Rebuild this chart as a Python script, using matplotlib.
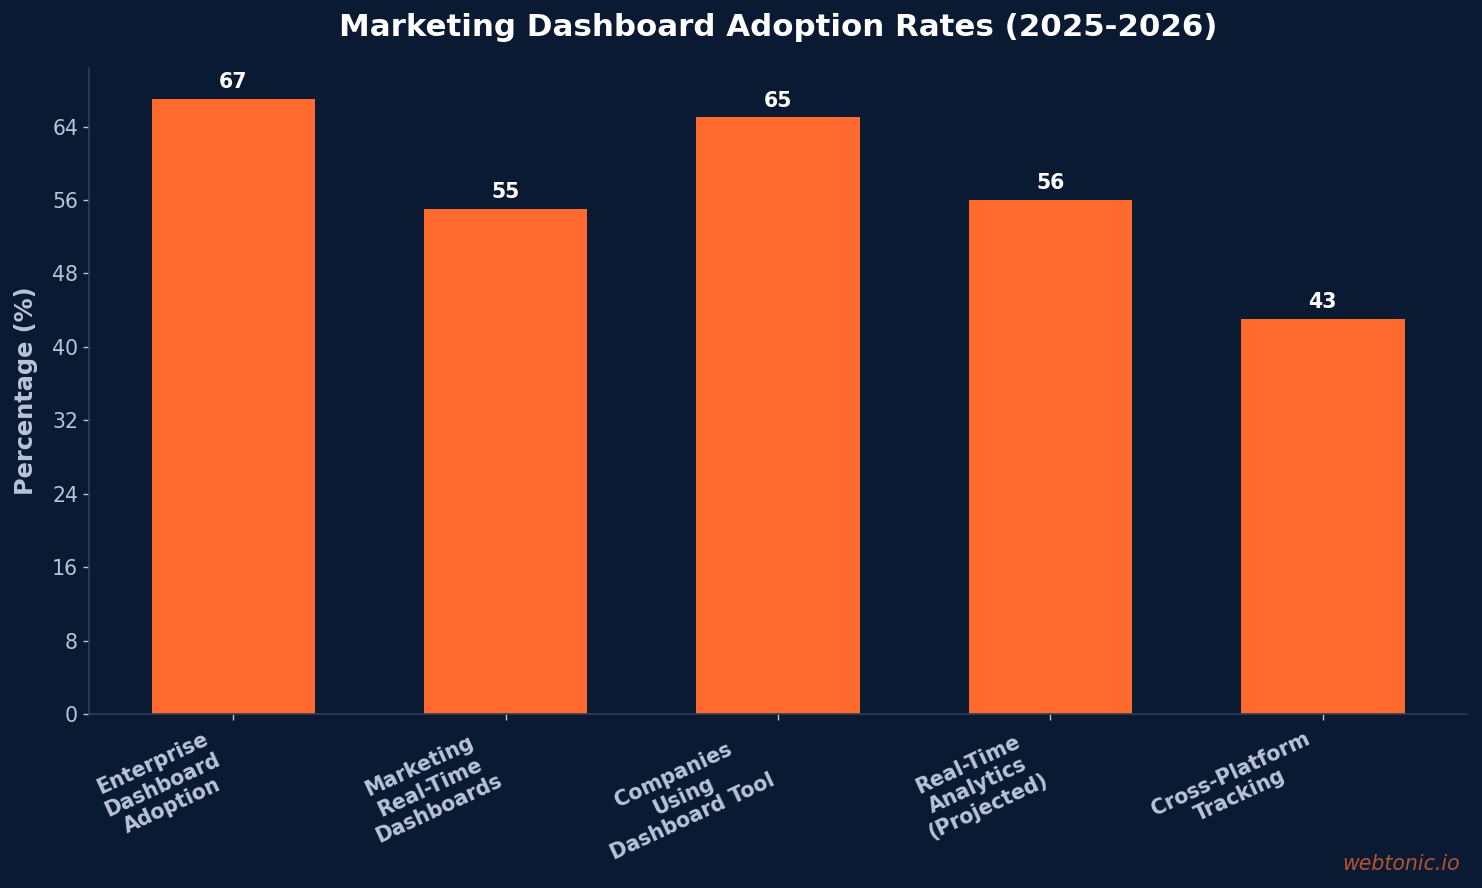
import matplotlib
matplotlib.use("Agg")
import matplotlib.pyplot as plt
from matplotlib.ticker import MultipleLocator

categories = [
    "Enterprise\nDashboard\nAdoption",
    "Marketing\nReal-Time\nDashboards",
    "Companies\nUsing\nDashboard Tool",
    "Real-Time\nAnalytics\n(Projected)",
    "Cross-Platform\nTracking",
]
values = [67, 55, 65, 56, 43]

bg = "#0b1a33"
bar_color = "#ff6b2e"
text_light = "#b8c4d9"
spine_color = "#2e3d55"

fig, ax = plt.subplots(figsize=(14.82, 8.88), dpi=100)
fig.patch.set_facecolor(bg)
ax.set_facecolor(bg)

bars = ax.bar(range(len(values)), values, width=0.6, color=bar_color)
for b, v in zip(bars, values):
    ax.annotate(str(v), (b.get_x() + b.get_width() / 2, v), xytext=(0, 5),
                textcoords="offset points", ha="center", va="bottom",
                color="white", fontsize=14.8, fontweight="bold")

ax.set_ylim(0, max(values) * 1.05)
ax.yaxis.set_major_locator(MultipleLocator(8))
ax.set_xticks(range(len(values)))
ax.set_xticklabels(categories, rotation=25, ha="right",
                   fontsize=14.8, fontweight="bold", color=text_light, multialignment="center")
ax.tick_params(axis="y", colors=text_light, labelsize=14.8, length=4.3, width=1)
ax.tick_params(axis="x", colors=text_light, length=4.3, width=1, pad=6)

ax.set_ylabel("Percentage (%)", fontsize=17.3, fontweight="bold", color=text_light, labelpad=10)
ax.set_title("Marketing Dashboard Adoption Rates (2025-2026)", fontsize=22.2,
             fontweight="bold", color="white", pad=23)

for s in ["top", "right"]:
    ax.spines[s].set_visible(False)
for s in ["left", "bottom"]:
    ax.spines[s].set_color(spine_color)
    ax.spines[s].set_linewidth(1.2)

fig.text(0.985, 0.016, "webtonic.io", ha="right", va="bottom", fontsize=14.8,
         style="italic", color="#ff6b2e", alpha=0.7)

fig.subplots_adjust(left=0.060, right=0.990, top=0.923, bottom=0.196)
plt.savefig("out.png", facecolor=bg)
